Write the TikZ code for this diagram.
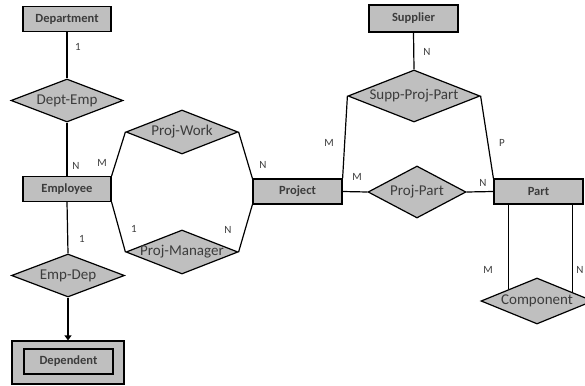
\documentclass[tikz,border=0pt]{standalone}
\usepackage{fontspec}
\setmainfont{Carlito}
\usepackage{xcolor}
\usepackage{tikz}
\usetikzlibrary{shapes.geometric}
\usetikzlibrary{arrows.meta}
\usetikzlibrary{calc}

\definecolor{erfill}{RGB}{191,191,191}
\definecolor{ertext}{RGB}{60,60,60}

\begin{document}
\begin{tikzpicture}[x=1pt,y=1pt,yscale=-1,xscale=1,
  entity/.style={draw, line width=1.2pt, fill=erfill, minimum width=88, minimum height=25, inner sep=0.75pt, font=\fontsize{12.5}{14}\selectfont\bfseries, text=ertext},
  rel/.style={draw, line width=1.2pt, fill=erfill, diamond, inner sep=0pt},
  reltext/.style={inner sep=0.75pt, font=\fontsize{15}{17}\selectfont, text=ertext},
  card/.style={inner sep=0.75pt, font=\fontsize{11}{13}\selectfont, text=ertext},
  link/.style={line width=1.2pt}]
\useasboundingbox (0,0) rectangle (585,385);

%Shape: Entities
\node [entity] (dept) at (67,19) {Department};
\node [entity] (emp) at (67,189) {Employee};
\node [entity, minimum width=89] (proj) at (297.5,191.5) {Project};
\node [entity, minimum width=89, minimum height=27] (sup) at (413.5,18.5) {Supplier};
\node [entity, minimum width=89] (part) at (538.5,191.5) {Part};
%Shape: Weak entity
\node [entity, minimum width=112, minimum height=43] (dep) at (68,362.5) {};
\node [entity, minimum width=89] (dep-in) at (68.5,361.5) {Dependent};

%Shape: Relationships
\node [rel, minimum width=112, minimum height=43] (de) at (67,100.5) {};
\node [rel, minimum width=112, minimum height=44] (pw) at (182,132) {};
\node [rel, minimum width=112, minimum height=44] (pm) at (182,252) {};
\node [rel, minimum width=113, minimum height=43] (ed) at (68,275.5) {};
\node [rel, minimum width=132, minimum height=52] (spp) at (414,96) {};
\node [rel, minimum width=98, minimum height=52] (pp) at (417,192) {};
\node [rel, minimum width=112, minimum height=46] (comp) at (537,301) {};

% Text Node
\node [reltext] (de-t) at (de) {Dept-Emp};
\node [reltext] (pw-t) at (pw) {Proj-Work};
\node [reltext] (pm-t) at (pm) {Proj-Manager};
\node [reltext] (ed-t) at (ed) {Emp-Dep};
\node [reltext] (spp-t) at (spp) {Supp-Proj-Part};
\node [reltext] (pp-t) at (pp) {Proj-Part};
\node [reltext] (comp-t) at (comp) {Component};

%Straight Lines
\draw [link] (dept.south) -- (de.north);
\draw [link] (de.south) -- (emp.north);
\draw [link] (emp.north east) -- (pw.west);
\draw [link] (pw.east) -- (proj.north west);
\draw [link] (emp.south east) -- (pm.west);
\draw [link] (proj.south west) -- (pm.east);
\draw [link] (emp.south) -- (ed.north);
\draw [link, -{Triangle[length=5pt, width=7pt]}] (ed.south) -- (dep.north);
\draw [link] (sup.south) -- (spp.north);
\draw [link] (spp.west) -- (proj.north east);
\draw [link] (spp.east) -- (part.north west);
\draw [link] (proj.east) -- (pp.west);
\draw [link] (pp.east) -- (part.west);
\coordinate (comp-l) at (comp.north west);
\coordinate (comp-r) at ($(comp.north)!0.625!(comp.east)$);
\draw [link] (comp-l |- part.south) -- (comp-l);
\draw [link] (comp-r |- part.south) -- (comp-r);

% Cardinality labels
\node [card] (c1) at (78,47) {1};
\node [card] (c2) at (76,166) {N};
\node [card] (c3) at (102,163) {M};
\node [card] (c4) at (134,229) {1};
\node [card] (c5) at (263,165) {N};
\node [card] (c6) at (228,230) {N};
\node [card] (c7) at (82,239) {1};
\node [card] (c8) at (427,52) {N};
\node [card] (c9) at (329,143) {M};
\node [card] (c10) at (502,143) {P};
\node [card] (c11) at (357,177) {M};
\node [card] (c12) at (483,183) {N};
\node [card] (c13) at (488,270) {M};
\node [card] (c14) at (580,270) {N};

\end{tikzpicture}
\end{document}
